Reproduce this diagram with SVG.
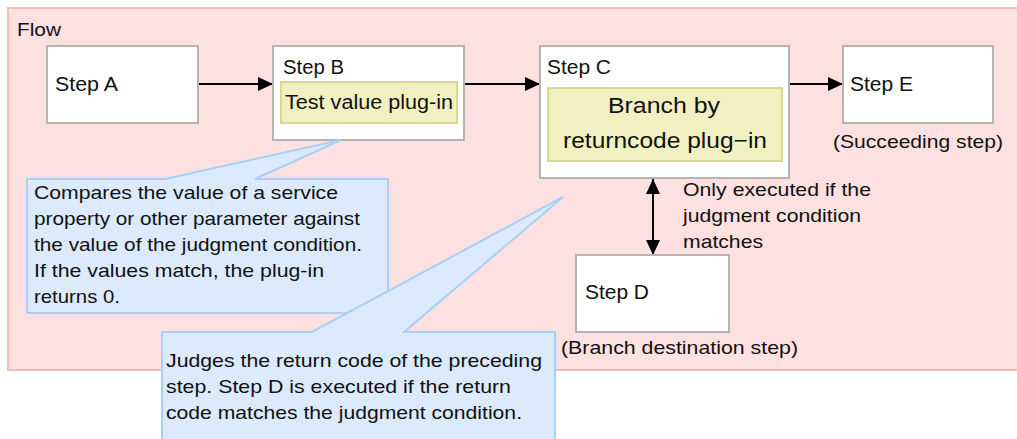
<svg xmlns="http://www.w3.org/2000/svg" width="1017" height="439" viewBox="0 0 1017 439">
<style>
text{font-family:"Liberation Sans",Arial,sans-serif;font-size:19px;fill:#111}
.lbl{font-size:20px}
.step{fill:#fff;stroke:#b4b4b4;stroke-width:2}
.plug{fill:#f0f0c0;stroke:#d8d890;stroke-width:2}
.call{fill:#dbeafc;stroke:#a9d1f7;stroke-width:2}
.conn{stroke:#000;stroke-width:2;fill:none}
.big{font-size:22px}
</style>
<defs>
<marker id="ah" viewBox="0 0 15 14" refX="15" refY="7" markerWidth="15" markerHeight="14" markerUnits="userSpaceOnUse" orient="auto-start-reverse">
<path d="M0,0 L15,7 L0,14 Z" fill="#000"/>
</marker>
</defs>
<g id="flow">
<rect x="8" y="8" width="1020" height="362" fill="#fde0e0" stroke="#f8b8b8" stroke-width="2"/>
<text x="17" y="36" textLength="44" lengthAdjust="spacingAndGlyphs">Flow</text>
</g>
<g id="connectors">
<line class="conn" x1="198" y1="84" x2="273" y2="84" marker-end="url(#ah)"/>
<line class="conn" x1="464" y1="84" x2="540" y2="84" marker-end="url(#ah)"/>
<line class="conn" x1="789" y1="84" x2="843" y2="84" marker-end="url(#ah)"/>
<line class="conn" x1="653" y1="179" x2="653" y2="255" marker-start="url(#ah)" marker-end="url(#ah)"/>
<text x="683" y="196" textLength="188" lengthAdjust="spacingAndGlyphs">Only executed if the</text>
<text x="683" y="222" textLength="178" lengthAdjust="spacingAndGlyphs">judgment condition</text>
<text x="683" y="248" textLength="80" lengthAdjust="spacingAndGlyphs">matches</text>
</g>
<g id="stepA">
<rect class="step" x="47" y="46" width="151" height="77"/>
<text class="lbl" x="55" y="91" textLength="63" lengthAdjust="spacingAndGlyphs">Step A</text>
</g>
<g id="stepB">
<rect class="step" x="273" y="46" width="191" height="94"/>
<text class="lbl" x="283" y="74" textLength="61" lengthAdjust="spacingAndGlyphs">Step B</text>
<rect class="plug" x="281" y="82" width="176" height="41"/>
<text class="lbl" x="285" y="109" textLength="168" lengthAdjust="spacingAndGlyphs">Test value plug-in</text>
</g>
<g id="stepC">
<rect class="step" x="540" y="46" width="249" height="132"/>
<text class="lbl" x="547" y="74" textLength="64" lengthAdjust="spacingAndGlyphs">Step C</text>
<rect class="plug" x="548" y="88" width="234" height="73"/>
<text class="big" x="608" y="113" textLength="112" lengthAdjust="spacingAndGlyphs">Branch by</text>
<text class="big" x="563" y="148" textLength="204" lengthAdjust="spacingAndGlyphs">returncode plug−in</text>
</g>
<g id="stepE">
<rect class="step" x="843" y="46" width="150" height="77"/>
<text class="lbl" x="850" y="91" textLength="63" lengthAdjust="spacingAndGlyphs">Step E</text>
<text x="833" y="148" textLength="170" lengthAdjust="spacingAndGlyphs">(Succeeding step)</text>
</g>
<g id="stepD">
<rect class="step" x="576" y="255" width="153" height="77"/>
<text class="lbl" x="585" y="299" textLength="64" lengthAdjust="spacingAndGlyphs">Step D</text>
<text x="561" y="354" textLength="237" lengthAdjust="spacingAndGlyphs">(Branch destination step)</text>
</g>
<g id="callout1">
<path class="call" d="M27,179 L165,179 L341,140 L255,179 L388,179 L388,313 L27,313 Z"/>
<text x="34" y="199" textLength="304" lengthAdjust="spacingAndGlyphs">Compares the value of a service</text>
<text x="34" y="225" textLength="326" lengthAdjust="spacingAndGlyphs">property or other parameter against</text>
<text x="34" y="251" textLength="328" lengthAdjust="spacingAndGlyphs">the value of the judgment condition.</text>
<text x="34" y="277" textLength="290" lengthAdjust="spacingAndGlyphs">If the values match, the plug-in</text>
<text x="34" y="303" textLength="86" lengthAdjust="spacingAndGlyphs">returns 0.</text>
</g>
<g id="callout2">
<path class="call" d="M162,332 L312,332 L563,197 L404,332 L555,332 L555,445 L162,445 Z"/>
<text x="166" y="367" textLength="376" lengthAdjust="spacingAndGlyphs">Judges the return code of the preceding</text>
<text x="166" y="393" textLength="345" lengthAdjust="spacingAndGlyphs">step. Step D is executed if the return</text>
<text x="166" y="419" textLength="356" lengthAdjust="spacingAndGlyphs">code matches the judgment condition.</text>
</g>
</svg>
